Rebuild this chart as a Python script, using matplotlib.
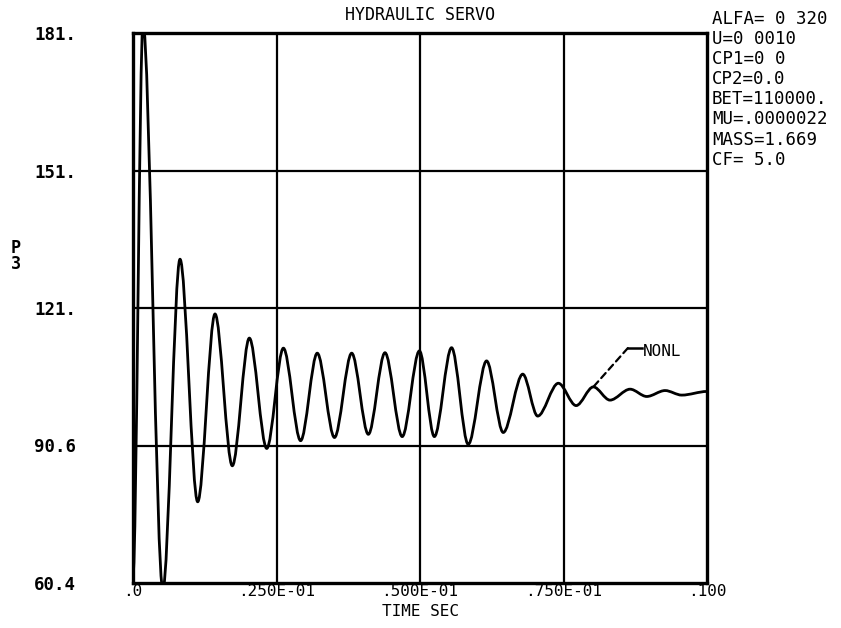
import matplotlib
matplotlib.use("Agg")
import matplotlib.pyplot as plt
from matplotlib.path import Path
from matplotlib.patches import PathPatch

# ---- data (successive extremes of P3) ----
time_ext = [0.0, 0.00174, 0.0052, 0.00819, 0.01127, 0.01429, 0.0173, 0.02027,
            0.0233, 0.0262, 0.0292, 0.0321, 0.0351, 0.0381, 0.0410, 0.0439,
            0.0469, 0.0499, 0.0525, 0.0555, 0.0584, 0.0616, 0.0645, 0.0679,
            0.0705, 0.0741, 0.0772, 0.0802, 0.0831, 0.0866, 0.0895, 0.0927,
            0.0956, 0.1]
p3_ext = [62.0, 183.0, 59.0, 131.4, 78.2, 119.4, 86.1, 114.1,
          89.9, 111.9, 91.6, 110.8, 92.3, 110.8, 93.0, 110.9,
          92.5, 111.3, 92.5, 112.0, 90.8, 109.1, 93.4, 106.2,
          97.0, 104.2, 99.3, 103.4, 100.5, 102.9, 101.3, 102.6,
          101.6, 102.4]

x_ticks = [0.0, 0.025, 0.05, 0.075, 0.1]
x_tick_labels = [".0", ".250E-01", ".500E-01", ".750E-01", ".100"]
y_ticks = [60.4, 90.55, 120.7, 150.85, 181.0]
y_tick_labels = ["60.4", "90.6", "121.", "151.", "181."]

params = ["ALFA= 0 320", "U=0 0010", "CP1=0 0", "CP2=0.0",
          "BET=110000.", "MU=.0000022", "MASS=1.669", "CF= 5.0"]
title = "HYDRAULIC SERVO"
xlabel = "TIME SEC"
ylabel = "P\n3"
curve_label = "NONL"
label_peak_index = 27  # extreme where the NONL leader starts

FONT = "DejaVu Sans Mono"

W, H = 841, 628
fig = plt.figure(figsize=(W / 100, H / 100), dpi=100)
ax = fig.add_axes([133 / W, 1 - 583 / H, (707 - 133) / W, (583 - 33) / H])
ax.set_xlim(x_ticks[0], x_ticks[-1])
ax.set_ylim(y_ticks[0], y_ticks[-1])

# grid
for xv in x_ticks[1:-1]:
    ax.axvline(xv, color="black", lw=1.6, zorder=1)
for yv in y_ticks[1:-1]:
    ax.axhline(yv, color="black", lw=1.6, zorder=1)

for sp in ax.spines.values():
    sp.set_linewidth(2.4)

# smooth curve through the extremes (cubic Bezier, horizontal tangents)
verts = [(time_ext[0], p3_ext[0])]
codes = [Path.MOVETO]
k = 0.33
for i in range(1, len(time_ext)):
    x0, y0 = time_ext[i - 1], p3_ext[i - 1]
    x1, y1 = time_ext[i], p3_ext[i]
    dx = x1 - x0
    verts += [(x0 + k * dx, y0), (x1 - k * dx, y1), (x1, y1)]
    codes += [Path.CURVE4] * 3
patch = PathPatch(Path(verts, codes), facecolor="none", edgecolor="black",
                  lw=2.0, zorder=3, capstyle="round", joinstyle="round")
ax.add_patch(patch)

# NONL leader
px, py = time_ext[label_peak_index], p3_ext[label_peak_index]
ax.annotate("", xy=(px, py), xytext=(0.0862, 111.9),
            arrowprops=dict(arrowstyle="-", linestyle=(0, (3, 2)), lw=1.6,
                            color="black", shrinkA=0, shrinkB=0))
ax.plot([0.0862, 0.0886], [111.9, 111.9], color="black", lw=1.8)
ax.text(0.0889, 111.2, curve_label, fontsize=11.5, family=FONT,
        ha="left", va="center")

# ticks
ax.set_xticks(x_ticks)
ax.set_xticklabels(x_tick_labels, fontsize=11.5, family=FONT)
ax.set_yticks(y_ticks)
ax.set_yticklabels(y_tick_labels, fontsize=12.5, family=FONT, fontweight="bold")
ax.tick_params(axis="both", length=0)
ax.tick_params(axis="x", pad=1)
ax.tick_params(axis="y", pad=41)

fig.text(420 / W, 1 - 15 / H, title, fontsize=12, family=FONT,
         ha="center", va="center")
fig.text(420 / W, 1 - 611 / H, xlabel, fontsize=11.5, family=FONT,
         ha="center", va="center")
fig.text(11 / W, 1 - 256 / H, ylabel, fontsize=12, family=FONT,
         fontweight="bold", ha="left", va="center", linespacing=0.9)

fig.text(712 / W, 1 - 10 / H, "\n".join(params), fontsize=12.5, family=FONT,
         ha="left", va="top", linespacing=1.15)

fig.savefig("out.png", dpi=100)
